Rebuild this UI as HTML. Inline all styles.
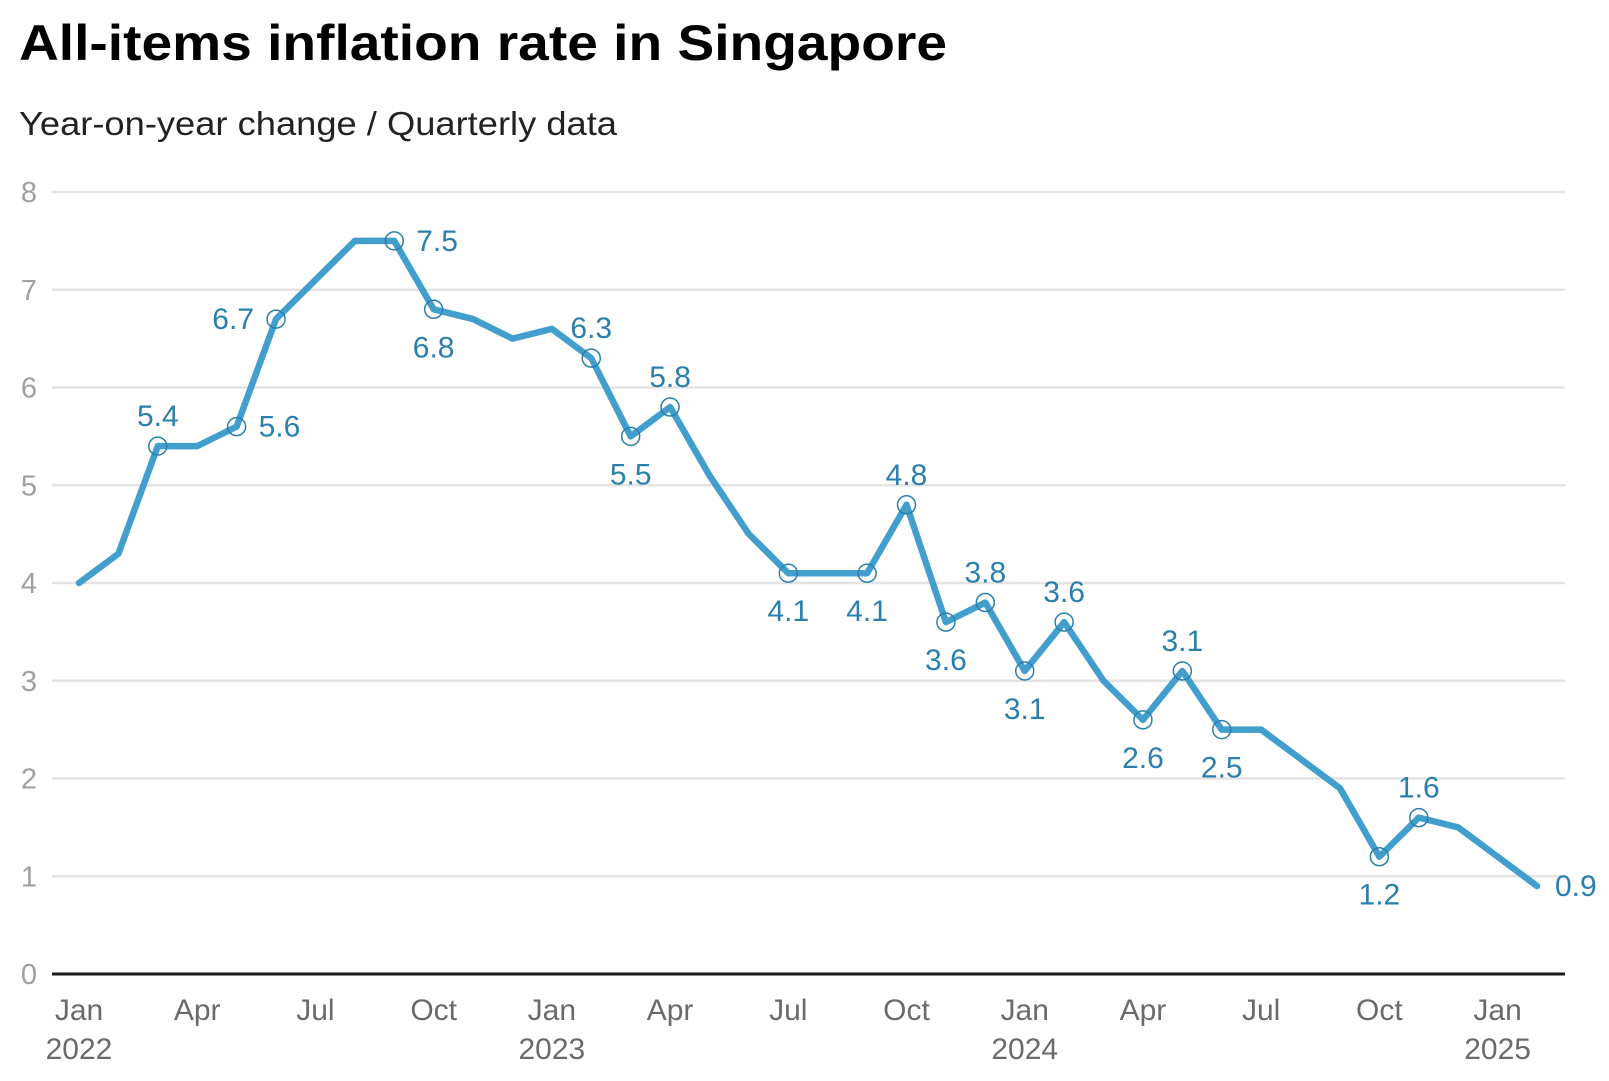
<!DOCTYPE html>
<html><head><meta charset="utf-8"><style>
html,body{margin:0;padding:0;background:#fff;}
svg{display:block;font-family:"Liberation Sans",sans-serif;}
</style></head><body>
<svg id="chart" width="1609" height="1081" viewBox="0 0 1609 1081">
<text x="19" y="60" font-size="50" font-weight="bold" fill="#000" textLength="928" lengthAdjust="spacingAndGlyphs">All-items inflation rate in Singapore</text>
<text x="19" y="135" font-size="33" fill="#222" textLength="598" lengthAdjust="spacingAndGlyphs">Year-on-year change / Quarterly data</text>
<g id="grid"></g><g id="xaxis"></g><g id="series"></g><g id="labels"></g>
</svg>
<script>
const values=[4.0,4.3,5.4,5.4,5.6,6.7,7.1,7.5,7.5,6.8,6.7,6.5,6.6,6.3,5.5,5.8,5.1,4.5,4.1,4.1,4.1,4.8,3.6,3.8,3.1,3.6,3.0,2.6,3.1,2.5,2.5,2.2,1.9,1.2,1.6,1.5,1.2,0.9];
const yTicks=[0,1,2,3,4,5,6,7,8];
const xTickIdx=[0,3,6,9,12,15,18,21,24,27,30,33,36];
const xTickMonth=["Jan","Apr","Jul","Oct","Jan","Apr","Jul","Oct","Jan","Apr","Jul","Oct","Jan"];
const xTickYear=["2022","","","","2023","","","","2024","","","","2025"];
const labelIdx=[2,4,5,8,9,13,14,15,18,20,21,22,23,24,25,27,28,29,33,34,37];
const labelPos=["above","right","left","right","below","above","below","above","below","below","above","below","above","below","above","below","above","below","below","above","rightnc"];
const NS="http://www.w3.org/2000/svg";
const X=i=>79+i*(1537-79)/37;
const Y=v=>974-v*97.75;
function mk(t,a,p){const e=document.createElementNS(NS,t);for(const k in a)e.setAttribute(k,a[k]);p.appendChild(e);return e;}
const grid=document.getElementById('grid');
yTicks.forEach(v=>{
  if(v>0){const l=mk('line',{x1:52,x2:1565,y1:Y(v),y2:Y(v),stroke:'#e3e3e3','stroke-width':2.5},grid);
  
  }
  const t=mk('text',{x:29,y:Y(v)+10,'font-size':29,fill:'#a0a0a0','text-anchor':'middle'},grid);t.textContent=v;
  
  
});
const base=mk('line',{x1:52,x2:1565,y1:Y(0),y2:Y(0),stroke:'#1a1a1a','stroke-width':3},grid);


const xa=document.getElementById('xaxis');
xTickIdx.forEach((i,k)=>{
  const t=mk('text',{x:X(i),y:1020,'font-size':30,fill:'#6a6a6a','text-anchor':'middle'},xa);t.textContent=xTickMonth[k];
  
  
  if(xTickYear[k]){const y=mk('text',{x:X(i),y:1059,'font-size':30,fill:'#6a6a6a','text-anchor':'middle'},xa);y.textContent=xTickYear[k];
  
  }
});
const s=document.getElementById('series');
const pl=mk('polyline',{points:values.map((v,i)=>X(i)+','+Y(v)).join(' '),fill:'none',stroke:'#429fcd','stroke-width':6.5,'stroke-linejoin':'round','stroke-linecap':'round'},s);


const lg=document.getElementById('labels');
labelIdx.forEach((i,k)=>{
  const x=X(i),y=Y(values[i]),p=labelPos[k];
  if(p!=='rightnc'){const c=mk('circle',{cx:x,cy:y,r:9,fill:'none',stroke:'#2b7fae','stroke-width':1.5},lg);
  
  }
  let tx=x,ty=y,anc='middle';
  if(p==='above')ty=y-20;else if(p==='below')ty=y+48;
  else if(p==='left'){tx=x-22;ty=y+10;anc='end';}
  else {tx=x+(p==='rightnc'?18:22);ty=y+10;anc='start';}
  const t=mk('text',{x:tx,y:ty,'font-size':30,fill:'#2b7fae','text-anchor':anc},lg);t.textContent=values[i].toFixed(1);
  
  
});
</script>
</body></html>
